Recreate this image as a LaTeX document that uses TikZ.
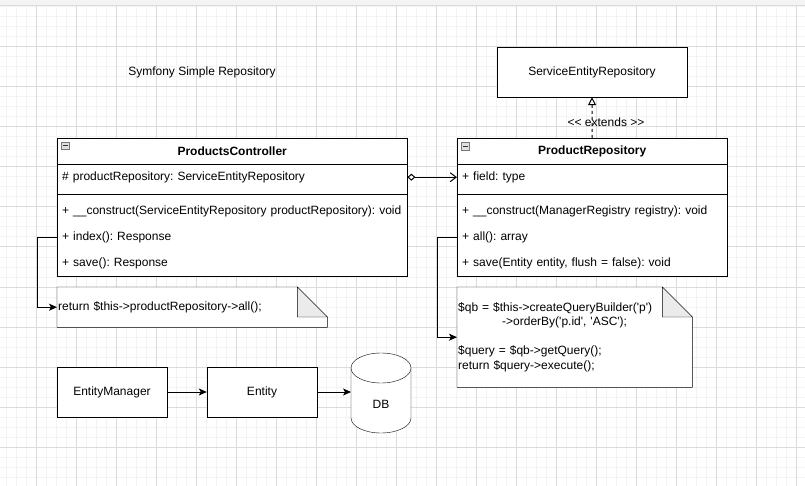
\documentclass[tikz,border=0pt]{standalone}
\usepackage{fontspec}
\newfontfamily\lsans{Liberation Sans}
\usetikzlibrary{arrows.meta,calc}
\pgfdeclarelayer{bg}
\pgfsetlayers{bg,main}
\definecolor{gridminor}{HTML}{F3F3F3}
\definecolor{gridmajor}{HTML}{DCDCDC}
\definecolor{topbar}{HTML}{F4F4F4}
\definecolor{foldgray}{HTML}{EBEBEB}
\definecolor{iconfill}{HTML}{E0E0E0}
\definecolor{icondraw}{HTML}{7A7A7A}
\tikzset{
  minorline/.style={draw=gridminor, line width=1pt},
  majorline/.style={draw=gridmajor, line width=1pt},
  classbox/.style={draw, fill=white, anchor=north west, inner sep=0pt},
  headrow/.style={anchor=north west, minimum height=26pt, inner sep=0pt, font=\lsans\bfseries\fontsize{12}{14.4}\selectfont},
  row/.style={anchor=north west, minimum height=26pt, inner xsep=5pt, inner ysep=0pt, align=left, text width=#1},
  plainbox/.style={draw, fill=white, inner sep=0pt},
  notebox/.style={anchor=north west, inner xsep=1pt, inner ysep=0pt, align=left, text width=#1},
  classic/.style={-{Stealth[length=8pt,width=7pt,inset=2pt]}},
  conn/.style={line width=1pt},
}
\begin{document}
\frenchspacing
\begin{tikzpicture}[x=1pt, y=-1pt, line width=1pt, font=\lsans\fontsize{12}{14.4}\selectfont\frenchspacing]
\useasboundingbox (0,0) rectangle (805,486);
% ---------- canvas grid (background layer) ----------
\begin{pgfonlayer}{bg}
\fill[white] (0,0) rectangle (805,486);
\foreach \x in {6,16,...,805} \draw[minorline] (\x,6) -- (\x,486);
\foreach \y in {7,17,...,486} \draw[minorline] (0,\y) -- (805,\y);
\foreach \x in {36,76,...,805} \draw[majorline] (\x,6) -- (\x,486);
\foreach \y in {47,87,...,486} \draw[majorline] (0,\y) -- (805,\y);
\fill[topbar] (0,0) rectangle (805,5.5);
\draw[gridmajor] (0,5.5) -- (805,5.5);
\end{pgfonlayer}

% ---------- title ----------
\node (title) at (202,72) {Symfony Simple Repository};

% ---------- ServiceEntityRepository ----------
\node[plainbox, minimum width=190pt, minimum height=50pt] (ser) at (592,72) {ServiceEntityRepository};

% ---------- ProductsController ----------
\node[classbox, minimum width=350pt, minimum height=138pt] (pc) at (57,138) {};
\node[headrow, minimum width=350pt] (pchead) at (57,138) {ProductsController};
\node[row=340pt] (pcfield) at (57,164) {\# productRepository: ServiceEntityRepository};
\node[row=340pt] (pcconstruct) at (57,198) {\mbox{+ \_\_construct(ServiceEntityRepository productRepository): void}};
\node[row=340pt] (pcindex) at (57,224) {+ index(): Response};
\node[row=340pt] (pcsave) at (57,250) {+ save(): Response};
\draw (pchead.south west) -- (pchead.south east);
\draw ([yshift=-4pt]pcfield.south west) -- ([yshift=-4pt]pcfield.south east);
\draw[fill=iconfill, draw=icondraw, line width=0.8pt] (61.5,142) rectangle (69,149.5);
\draw[draw=black!80, line width=0.9pt] (63,145.75) -- (67.5,145.75);

% ---------- ProductRepository ----------
\node[classbox, minimum width=270pt, minimum height=138pt] (pr) at (457,138) {};
\node[headrow, minimum width=270pt] (prhead) at (457,138) {ProductRepository};
\node[row=260pt] (prfield) at (457,164) {+ field: type};
\node[row=260pt] (prconstruct) at (457,198) {+ \_\_construct(ManagerRegistry registry): void};
\node[row=260pt] (prall) at (457,224) {+ all(): array};
\node[row=260pt] (prsave) at (457,250) {+ save(Entity entity, flush = false): void};
\draw (prhead.south west) -- (prhead.south east);
\draw ([yshift=-4pt]prfield.south west) -- ([yshift=-4pt]prfield.south east);
\draw[fill=iconfill, draw=icondraw, line width=0.8pt] (461.5,142.5) rectangle (469,150);
\draw[draw=black!80, line width=0.9pt] (463,146.25) -- (467.5,146.25);

% ---------- notes ----------
\node[notebox=268pt, minimum height=40pt] (note1) at (57,287) {return \$this->productRepository->all();};
\node[notebox=233pt, minimum height=100pt] (note2) at (457,287) {\$qb = \$this->createQueryBuilder('p')\\
\hspace*{44pt}->orderBy('p.id', 'ASC');\\[14.4pt]
\$query = \$qb->getQuery();\\
return \$query->execute();};
\begin{pgfonlayer}{bg}
\draw[fill=white] (note1.north west) -- ([xshift=-30pt]note1.north east) -- ([yshift=-30pt]note1.north east) -- (note1.south east) -- (note1.south west) -- cycle;
\draw[fill=foldgray] ([xshift=-30pt]note1.north east) -- ([xshift=-30pt,yshift=-30pt]note1.north east) -- ([yshift=-30pt]note1.north east) -- cycle;
\draw[fill=white] (note2.north west) -- ([xshift=-30pt]note2.north east) -- ([yshift=-30pt]note2.north east) -- (note2.south east) -- (note2.south west) -- cycle;
\draw[fill=foldgray] ([xshift=-30pt]note2.north east) -- ([xshift=-30pt,yshift=-30pt]note2.north east) -- ([yshift=-30pt]note2.north east) -- cycle;
\end{pgfonlayer}

% ---------- bottom row ----------
\node[plainbox, minimum width=110pt, minimum height=50pt] (em) at (112,392) {EntityManager};
\node[plainbox, minimum width=110pt, minimum height=50pt] (en) at (262,392) {Entity};
\node[minimum width=60pt, minimum height=80pt, inner sep=0pt, anchor=north west] (db) at (351,353) {};
\draw[fill=white] (351,368) -- (351,418) arc[start angle=180, end angle=0, x radius=30, y radius=15] -- (411,368) -- cycle;
\draw[fill=white] (381,368) ellipse[x radius=30, y radius=15];
\node (dblabel) at (381,404) {DB};

% ---------- connectors ----------
\draw[conn, dashed, dash pattern=on 3pt off 3pt, -{Triangle[length=8pt,width=8pt,fill=white]}] (prhead.north) -- (ser.south);
\node (ext) at (606,122) {<< extends >>};
\draw[conn, {Diamond[length=8pt,width=7pt,fill=white]}-{Straight Barb[length=6pt,width=9pt]}] (pcfield.east) -- (prfield.west);
\draw[conn, classic] (pcindex.west) -- ++(-20,0) |- (note1.west);
\draw[conn, classic] (prall.west) -- ++(-20,0) |- (note2.west);
\draw[conn, classic] (em.east) -- (en.west);
\draw[conn, classic] (en.east) -- (en.east -| db.west);
\end{tikzpicture}
\end{document}
